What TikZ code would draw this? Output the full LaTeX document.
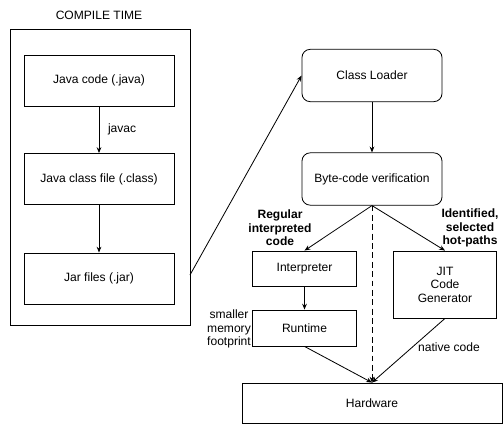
\documentclass[tikz,border=0pt]{standalone}
\usepackage{fontspec}
\setmainfont{Liberation Sans}
\usetikzlibrary{arrows.meta}

\begin{document}
\begin{tikzpicture}[x=0.03cm, y=-0.03cm, line width=0.7pt,
  font=\fontsize{10.3}{11.6}\selectfont,
  box/.style={draw, rectangle, minimum width=4.5cm, minimum height=1.53cm},
  jvmbox/.style={draw, rectangle, rounded corners=7pt, minimum width=4.2cm, minimum height=1.57cm},
  runbox/.style={draw, rectangle, minimum width=3.1cm, align=center},
  note/.style={align=center, font=\fontsize{10.3}{11.6}\selectfont\bfseries},
  >={Stealth[length=5pt, width=4pt]}]

\useasboundingbox (0,0) rectangle (503,424);

% Compile time side
\node (title) at (99,15) {COMPILE TIME};
\node[draw, minimum width=5.4cm, minimum height=8.88cm] (compile) at (100,177) {};
\node[box] (java) at (99,80.5) {Java code (.java)};
\node[box] (class) at (99,179) {Java class file (.class)};
\node[box] (jar) at (99,278.5) {Jar files (.jar)};

\draw[->] (java) -- (class) node[midway, right=4pt] (javac) {javac};
\draw[->] (class) -- (jar);

% Run time side
\node[jvmbox] (loader) at (372,75.5) {Class Loader};
\node[jvmbox] (verify) at (372,179) {Byte-code verification};
\node[runbox, minimum height=1.05cm] (interp) at (304.5,268.5) {Interpreter};
\node[runbox, minimum height=1.08cm] (runtime) at (304.5,328) {Runtime};
\node[runbox, minimum height=2.01cm] (jit) at (445,284.5) {JIT\\Code\\Generator};
\node[draw, minimum width=7.8cm, minimum height=1.2cm] (hw) at (372,403) {Hardware};

% Connectors
\coordinate (jarout) at (190,275);
\draw[->] (jarout) -- (loader.west);
\draw[->] (loader) -- (verify);
\draw[->] (verify.south) -- (interp.north);
\draw[->] (verify.south) -- (jit.north);
\draw[->] (interp) -- (runtime);
\draw[->, dashed, dash pattern=on 5pt off 3pt] (verify.south) -- (hw.north);
\draw[->] (runtime.south) -- (hw.north);
\draw[->] (jit.south) -- (hw.north);

% Labels
\node[note] (regular) at (280,228) {Regular\\interpreted\\code};
\node[note] (hot) at (470,228) {Identified,\\selected\\hot-paths};
\node[align=center] (small) at (229,329) {smaller\\memory\\footprint};
\node (native) at (449,347) {native code};

\end{tikzpicture}
\end{document}
